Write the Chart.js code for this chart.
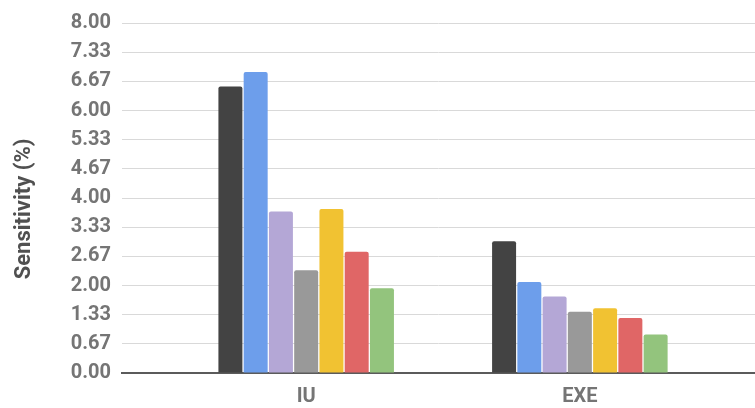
<!DOCTYPE html>
<html>
<head>
<meta charset="utf-8">
<script src="https://cdn.jsdelivr.net/npm/chart.js@4/dist/chart.umd.min.js"></script>
<style>
  html, body { margin: 0; padding: 0; background: #ffffff; }
  #wrap { width: 755px; height: 408px; }
</style>
</head>
<body>
<div id="wrap"><canvas id="chart" width="755" height="408"></canvas></div>
<script>
// Categories on the x axis
const categories = ['IU', 'EXE'];

// Sensitivity (%) per series, one value per category
const series1 = [6.55, 3.01];
const series2 = [6.88, 2.08];
const series3 = [3.69, 1.75];
const series4 = [2.35, 1.40];
const series5 = [3.75, 1.48];
const series6 = [2.77, 1.26];
const series7 = [1.94, 0.88];

const seriesNames = ['Series 1', 'Series 2', 'Series 3', 'Series 4', 'Series 5', 'Series 6', 'Series 7'];
const seriesValues = [series1, series2, series3, series4, series5, series6, series7];
const seriesColors = ['#434343', '#6d9eeb', '#b4a7d6', '#999999', '#f1c232', '#e06666', '#93c47d'];

// Value axis tick labels (0 to 8 in twelve equal steps)
const yTickLabels = ['0.00', '0.67', '1.33', '2.00', '2.67', '3.33', '4.00',
                     '4.67', '5.33', '6.00', '6.67', '7.33', '8.00'];
const yMax = 8;

// Horizontal extent of the category axis around the two groups
const xMin = -0.673;
const xMax = 1.640;

const datasets = seriesValues.map((vals, s) => ({
  label: seriesNames[s],
  data: vals.map((v, i) => ({ x: i, y: v })),
  backgroundColor: seriesColors[s],
  borderWidth: 0,
  borderRadius: 2,
  categoryPercentage: 0.646,
  barPercentage: 0.95
}));

new Chart(document.getElementById('chart'), {
  type: 'bar',
  data: { datasets },
  options: {
    responsive: false,
    animation: false,
    layout: { padding: { left: 11, top: 20, right: 0, bottom: 0 } },
    plugins: { legend: { display: false }, tooltip: { enabled: false } },
    scales: {
      x: {
        type: 'linear',
        min: xMin,
        max: xMax,
        offset: false,
        z: 1,
        grid: { display: false },
        border: { display: true, color: '#5b5b5b', width: 2 },
        afterBuildTicks: (scale) => {
          scale.ticks = categories.map((_, i) => ({ value: i }));
        },
        afterFit: (scale) => { scale.height = 35; },
        ticks: {
          autoSkip: false,
          maxRotation: 0,
          padding: 4,
          color: '#757575',
          font: { family: 'Roboto', size: 20, weight: 'bold' },
          callback: (value) => categories[value]
        }
      },
      y: {
        min: 0,
        max: yMax,
        grid: { color: '#d9d9d9', lineWidth: 1, drawTicks: false },
        border: { display: false },
        afterBuildTicks: (scale) => {
          scale.ticks = yTickLabels.map((_, i) => ({ value: i * yMax / (yTickLabels.length - 1) }));
        },
        afterFit: (scale) => { scale.width = 111; },
        ticks: {
          padding: 11,
          color: '#757575',
          font: { family: 'Roboto', size: 20, weight: 'bold' },
          callback: (value, index) => yTickLabels[index]
        },
        title: {
          display: true,
          // trailing spaces nudge the rotated title slightly lower
          text: 'Sensitivity (%)    ',
          color: '#505050',
          padding: { top: 0, bottom: 0 },
          font: { family: 'Roboto', size: 22, weight: 'bold', lineHeight: 1.2 }
        }
      }
    }
  }
});
</script>
</body>
</html>
